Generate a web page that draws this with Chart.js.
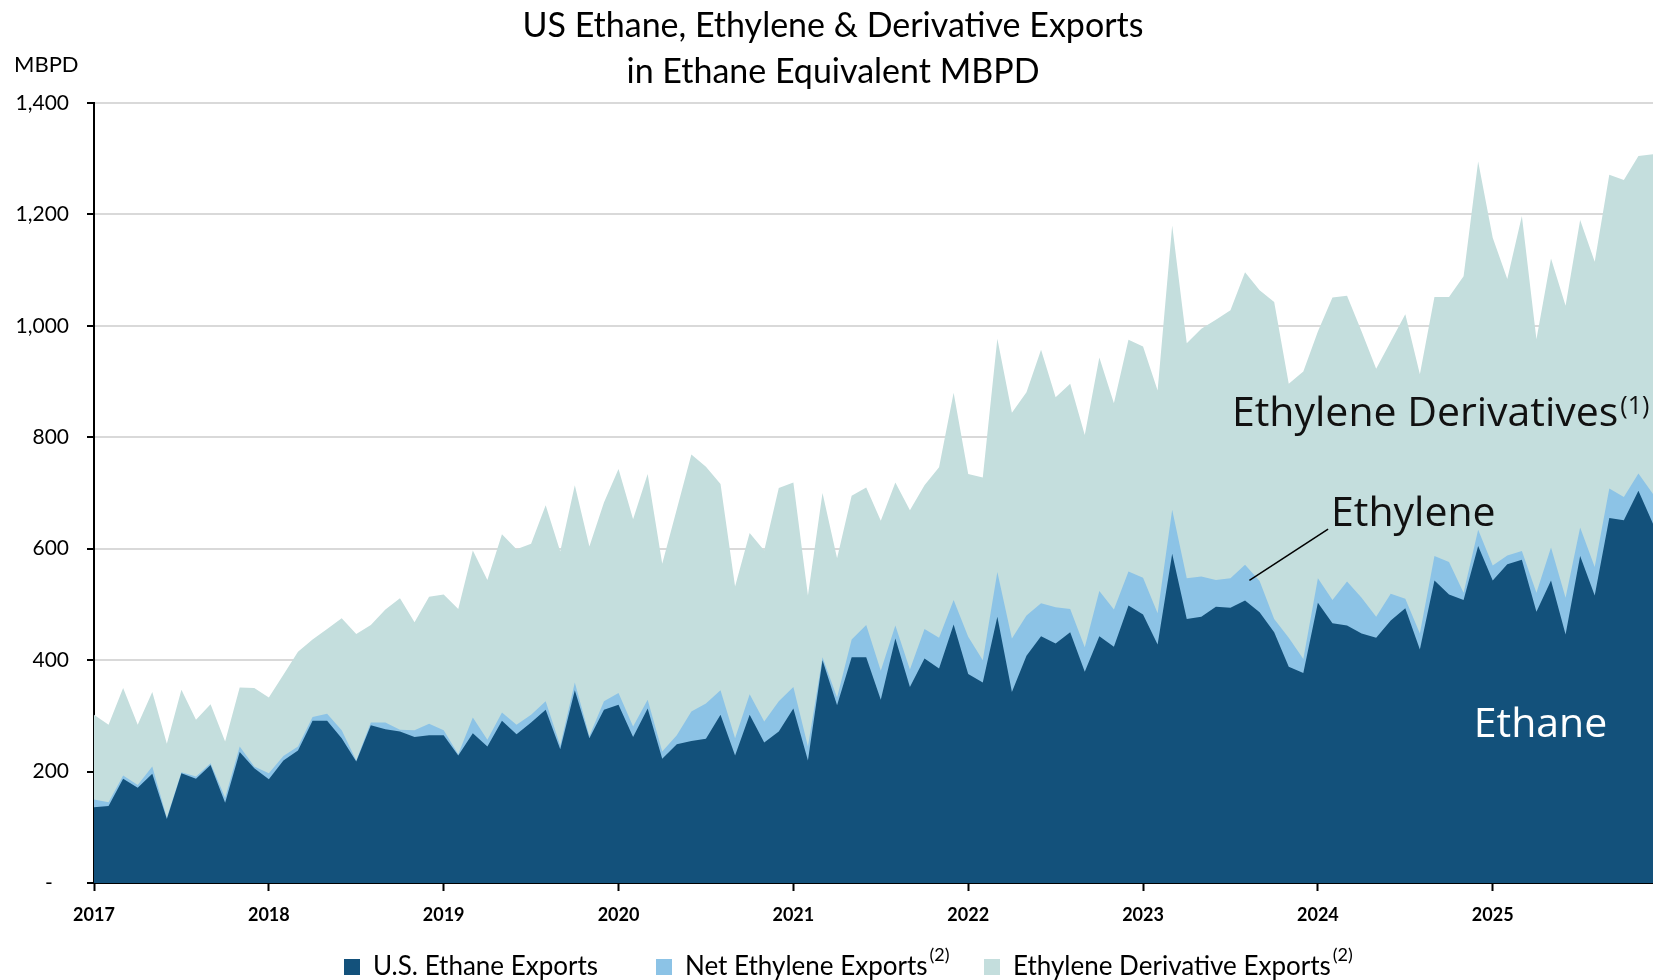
<!DOCTYPE html>
<html>
<head>
<meta charset="utf-8">
<script src="https://cdn.jsdelivr.net/npm/chart.js@4.4.1/dist/chart.umd.min.js"></script>
<style>
  html, body { margin: 0; padding: 0; background: #fff; }
  #wrap { width: 1653px; height: 980px; }
</style>
</head>
<body>
<div id="wrap"><canvas id="myChart" width="1653" height="980"></canvas></div>
<script>
// tick labels / categories
const YEARS = ['2017', '2018', '2019', '2020', '2021', '2022', '2023', '2024', '2025'];
const MONTHS = ['01', '02', '03', '04', '05', '06', '07', '08', '09', '10', '11', '12'];

// MBPD, monthly Jan 2017 - Dec 2025
const ETHANE = [
    136, 138, 187, 171, 196, 115, 197, 187, 212, 144, 235, 206,
    186, 220, 238, 291, 291, 260, 218, 283, 276, 272, 262, 265,
    265, 229, 269, 245, 291, 267, 288, 311, 240, 346, 260, 311,
    320, 262, 313, 223, 249, 255, 259, 302, 229, 302, 252, 272,
    313, 220, 400, 319, 405, 405, 329, 439, 352, 403, 385, 464,
    375, 360, 478, 343, 408, 443, 430, 450, 379, 443, 424, 498,
    482, 428, 591, 474, 478, 496, 494, 507, 486, 450, 388, 377,
    503, 466, 462, 448, 440, 471, 493, 419, 543, 518, 508, 605,
    543, 572, 580, 487, 543, 446, 587, 516, 655, 651, 704, 645
];
const ETHYLENE = [
    14, 7, 6, 5, 13, 2, 2, 4, 3, 9, 10, 3,
    11, 8, 7, 7, 13, 14, 2, 5, 12, 3, 12, 21,
    9, 2, 28, 12, 15, 17, 14, 15, 7, 14, 4, 15,
    21, 19, 16, 13, 16, 53, 63, 44, 31, 37, 38, 54,
    39, 25, 5, 14, 32, 58, 52, 23, 31, 53, 55, 44,
    67, 40, 80, 96, 72, 59, 65, 42, 44, 81, 67, 61,
    66, 56, 79, 73, 72, 48, 53, 64, 56, 24, 52, 25,
    44, 42, 79, 64, 38, 48, 17, 29, 44, 58, 13, 29,
    27, 16, 16, 34, 59, 66, 51, 51, 53, 42, 31, 53
];
const DERIVATIVES = [
    152, 139, 157, 108, 134, 133, 148, 102, 106, 101, 106, 141,
    136, 146, 170, 139, 152, 201, 227, 175, 203, 236, 194, 228,
    244, 261, 300, 287, 320, 315, 307, 352, 348, 354, 340, 357,
    402, 372, 405, 337, 406, 461, 425, 370, 272, 289, 307, 383,
    367, 271, 295, 250, 258, 247, 269, 257, 286, 258, 306, 372,
    292, 328, 419, 405, 401, 455, 377, 404, 381, 419, 370, 416,
    415, 400, 510, 422, 445, 467, 481, 525, 522, 569, 456, 516,
    443, 543, 513, 478, 445, 453, 511, 465, 465, 476, 568, 661,
    588, 496, 601, 455, 519, 524, 552, 548, 563, 569, 570, 610
];

const TITLE = ['US Ethane, Ethylene & Derivative Exports', 'in Ethane Equivalent MBPD'];
const SERIES_NAMES = ['U.S. Ethane Exports', 'Net Ethylene Exports', 'Ethylene Derivative Exports'];
const SERIES_NOTES = ['', '(2)', '(2)'];
const COLORS = ['#13517b', '#8cc3e6', '#c4dedd'];

const FONT = 'Lato, "Liberation Sans", sans-serif';
const LABEL_FONT = '"Open Sans", "DejaVu Sans", sans-serif';

let labels = [];
for (let y of YEARS) {
    for (let m of MONTHS) labels.push(y + '-' + m);
}

// stacked: each area filled to origin, drawn back to front
function makeDataset(i, values) {
    return {
        label: SERIES_NAMES[i],
        data: values,
        backgroundColor: COLORS[i],
        borderColor: COLORS[i],
        borderWidth: 0,
        pointRadius: 0,
        tension: 0,
        fill: 'origin',
    };
}

const overlay = {
    id: 'overlay',
    afterDatasetsDraw(chart) {
        const { ctx, scales: { x, y } } = chart;
        ctx.save();
        ctx.textBaseline = 'alphabetic';
        ctx.textAlign = 'left';

        // in-plot series labels (positions in month index / MBPD)
        ctx.font = '41px ' + LABEL_FONT;
        ctx.fillStyle = '#111';
        let px = x.getPixelForValue(78.1), py = y.getPixelForValue(821);
        ctx.fillText('Ethylene Derivatives', px, py);
        let w = ctx.measureText('Ethylene Derivatives').width;
        ctx.font = '25px ' + LABEL_FONT;
        ctx.fillText('(1)', px + w + 2, py - 12);

        ctx.font = '41px ' + LABEL_FONT;
        ctx.fillText('Ethylene', x.getPixelForValue(84.9), y.getPixelForValue(640));

        ctx.fillStyle = '#fff';
        ctx.fillText('Ethane', x.getPixelForValue(94.7), y.getPixelForValue(262));

        // leader line to ethylene band
        ctx.strokeStyle = '#000';
        ctx.lineWidth = 1.5;
        ctx.beginPath();
        ctx.moveTo(x.getPixelForValue(79.3), y.getPixelForValue(543));
        ctx.lineTo(x.getPixelForValue(84.7), y.getPixelForValue(635));
        ctx.stroke();
        ctx.restore();
    },
    afterDraw(chart) {
        const { ctx } = chart;
        ctx.save();
        ctx.fillStyle = '#000';
        ctx.textBaseline = 'middle';

        // title
        ctx.textAlign = 'center';
        ctx.font = '34px ' + FONT;
        ctx.fillText(TITLE[0], 833, 26);
        ctx.fillText(TITLE[1], 833, 72);

        ctx.textAlign = 'left';
        ctx.font = '22px ' + FONT;
        ctx.fillText('MBPD', 14, 65);

        // legend along the bottom
        const starts = [344, 656, 984];
        const cy = 967;
        chart.data.datasets.forEach((ds, i) => {
            let sx = starts[i];
            ctx.fillStyle = ds.backgroundColor;
            ctx.fillRect(sx, cy - 8, 16, 16);
            ctx.fillStyle = '#000';
            ctx.font = '26px ' + FONT;
            ctx.fillText(ds.label, sx + 29, cy);
            if (SERIES_NOTES[i]) {
                let tw = ctx.measureText(ds.label).width;
                ctx.font = '18px ' + FONT;
                ctx.fillText(SERIES_NOTES[i], sx + 29 + tw + 2, cy - 12);
            }
        });
        ctx.restore();
    }
};

const ctx = document.getElementById('myChart');
const myGraph = new Chart(ctx, {
    type: 'line',
    data: {
        labels: labels,
        datasets: [
            makeDataset(0, ETHANE),
            makeDataset(1, ETHYLENE),
            makeDataset(2, DERIVATIVES),
        ],
    },
    options: {
        responsive: false,
        animation: false,
        devicePixelRatio: 1,
        layout: { padding: { top: 103, left: 0, right: 0, bottom: 0 } },
        scales: {
            x: {
                offset: false,
                grid: {
                    drawOnChartArea: false,
                    tickLength: 8,
                    tickWidth: 2,
                    tickColor: '#000',
                },
                border: { color: '#000', width: 2 },
                ticks: {
                    autoSkip: false,
                    maxRotation: 0,
                    minRotation: 0,
                    padding: 13,
                    color: '#000',
                    font: { family: FONT, size: 18, weight: 'bold' },
                    callback: (v, i) => (i % 12 === 0 ? YEARS[i / 12] : null),
                },
                afterFit: (s) => { s.height = 97; },
            },
            y: {
                stacked: true,
                min: 0,
                max: 1400,
                grid: {
                    color: '#d9d9d9',
                    lineWidth: 2,
                    tickLength: 7,
                    tickWidth: 2,
                    tickColor: '#000',
                },
                border: { color: '#000', width: 2 },
                ticks: {
                    stepSize: 200,
                    padding: 18,
                    color: '#000',
                    font: { family: FONT, size: 21 },
                    callback: (v) => (v === 0 ? '-   ' : v.toLocaleString('en-US')),
                },
                afterFit: (s) => { s.width = 94; },
            },
        },
        plugins: {
            legend: { display: false },
            tooltip: { enabled: false },
            title: { display: false },
        },
    },
    plugins: [overlay],
});
</script>
</body>
</html>
